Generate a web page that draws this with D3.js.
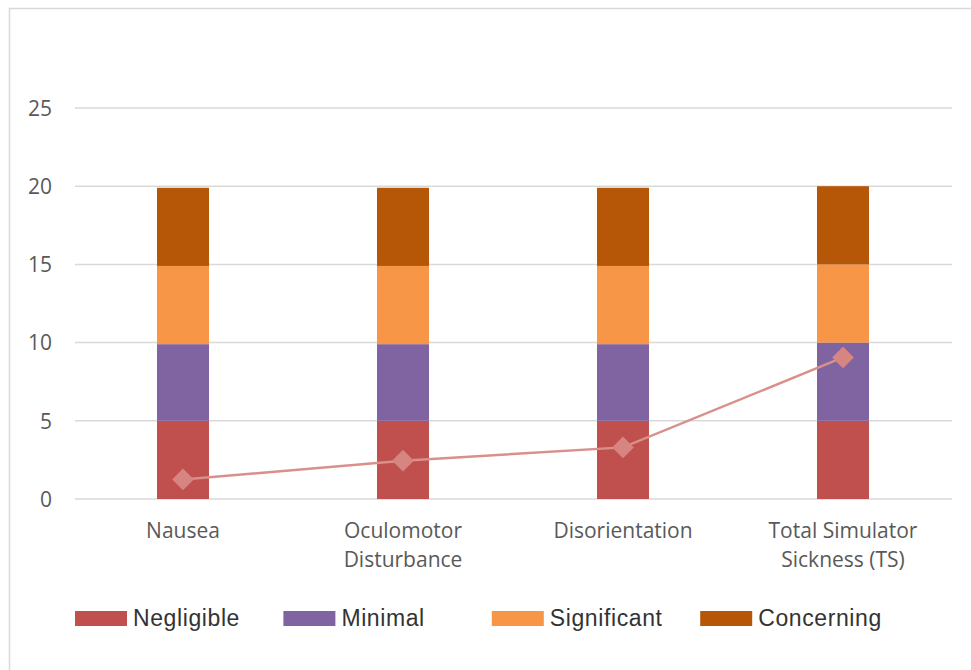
<!DOCTYPE html>
<html>
<head>
<meta charset="utf-8">
<script src="https://cdn.jsdelivr.net/npm/d3@7"></script>
<style>
  html, body { margin: 0; padding: 0; background: #fff; }
  svg { display: block; }
</style>
</head>
<body>
<svg id="chart" width="971" height="670"></svg>
<script>
const categories = ["Nausea", "Oculomotor Disturbance", "Disorientation", "Total Simulator Sickness (TS)"];
const categoryLines = [["Nausea"], ["Oculomotor", "Disturbance"], ["Disorientation"], ["Total Simulator", "Sickness (TS)"]];
const seriesNames = ["Negligible", "Minimal", "Significant", "Concerning"];
const negligible = [5, 5, 5, 5];
const minimal = [4.9, 4.9, 4.9, 5];
const significant = [5, 5, 5, 5];
const concerning = [5, 5, 5, 5];
const scores = [1.25, 2.45, 3.3, 9.05];
const yTicks = [0, 5, 10, 15, 20, 25];
const colors = ["#C0504D", "#8064A2", "#F79646", "#B65708"];

const svg = d3.select("#chart");

// outer border
svg.append("path")
  .attr("d", "M9.5,700 L9.5,8.5 L980,8.5")
  .attr("fill", "none").attr("stroke", "#d9d9d9").attr("stroke-width", 1.5);

const plotLeft = 75, plotRight = 952, plotTop = 108, plotBottom = 499;

const x = d3.scaleBand().domain(categories).range([73, 953]).padding(0);
const y = d3.scaleLinear().domain([0, 25]).range([plotBottom, plotTop]);
const barW = 52;

// gridlines
svg.append("g").selectAll("line").data(yTicks).join("line")
  .attr("x1", plotLeft).attr("x2", plotRight)
  .attr("y1", d => y(d)).attr("y2", d => y(d))
  .attr("stroke", "#d9d9d9").attr("stroke-width", 1.5);

// y axis labels
const yAxis = d3.axisLeft(y).tickValues(yTicks).tickSize(0).tickPadding(0);
const yg = svg.append("g").attr("transform", "translate(52,0)").call(yAxis);
yg.select(".domain").remove();
yg.selectAll("text")
  .attr("font-family", "'Open Sans', sans-serif").attr("font-size", 21)
  .attr("fill", "#595959").attr("dy", "0.35em");

// stacked data
const rows = categories.map((c, i) => ({
  cat: c, Negligible: negligible[i], Minimal: minimal[i], Significant: significant[i], Concerning: concerning[i]
}));
const stack = d3.stack().keys(seriesNames)(rows);

svg.append("g").selectAll("g").data(stack).join("g")
  .attr("fill", (d, i) => colors[i])
  .selectAll("rect").data(d => d).join("rect")
  .attr("x", d => x(d.data.cat) + x.bandwidth() / 2 - barW / 2)
  .attr("width", barW)
  .attr("y", d => y(d[1]))
  .attr("height", d => y(d[0]) - y(d[1]));

// line
const line = d3.line()
  .x((d, i) => x(categories[i]) + x.bandwidth() / 2)
  .y(d => y(d));
svg.append("path").datum(scores)
  .attr("d", line).attr("fill", "none")
  .attr("stroke", "#d9908b").attr("stroke-width", 2.5);

const diamond = d3.symbol().type(d3.symbolDiamond2).size(300);
svg.append("g").selectAll("path").data(scores).join("path")
  .attr("transform", (d, i) => `translate(${x(categories[i]) + x.bandwidth() / 2},${y(d)})`)
  .attr("d", diamond)
  .attr("fill", "#d68581");

// x labels
const xl = svg.append("g");
categories.forEach((c, i) => {
  const t = xl.append("text")
    .attr("x", x(c) + x.bandwidth() / 2)
    .attr("y", 538)
    .attr("text-anchor", "middle")
    .attr("font-family", "'Open Sans', sans-serif").attr("font-size", 21)
    .attr("fill", "#595959");
  categoryLines[i].forEach((ln, j) => {
    t.append("tspan").attr("x", x(c) + x.bandwidth() / 2).attr("dy", j === 0 ? 0 : 29).text(ln);
  });
});

// legend
const legend = svg.append("g");
seriesNames.forEach((s, i) => {
  const lx = 75 + i * 208.4;
  legend.append("rect").attr("x", lx).attr("y", 611).attr("width", 52).attr("height", 15).attr("fill", colors[i]);
  legend.append("text").attr("x", lx + 58).attr("y", 626)
    .attr("font-family", "'Liberation Sans', Arial, sans-serif").attr("font-size", 23)
    .attr("letter-spacing", 0.6)
    .attr("fill", "#333333").text(s);
});
</script>
</body>
</html>
